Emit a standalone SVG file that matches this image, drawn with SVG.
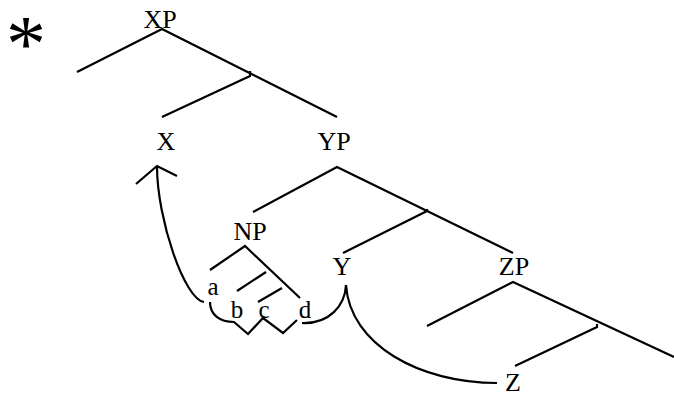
<svg xmlns="http://www.w3.org/2000/svg" width="674" height="396" viewBox="0 0 674 396">
<style>
text{font-family:'Liberation Serif','DejaVu Serif','Times New Roman',serif;fill:#000;text-anchor:middle}
.t{font-size:26px}
.s{font-size:25px}
.ln{fill:none;stroke:#000;stroke-width:2.2;stroke-linecap:butt;stroke-linejoin:miter}
</style>
<rect width="674" height="396" fill="#fff"/>
<text id="star" x="26" y="71" style="font-size:80px">*</text>
<g id="nodes">
<g id="n-XP"><text class="t" x="160" y="28">XP</text></g>
<g id="n-X"><text class="t" x="166" y="150">X</text></g>
<g id="n-YP"><text class="t" x="334" y="150">YP</text></g>
<g id="n-NP"><text class="t" x="250" y="240">NP</text></g>
<g id="n-Y"><text class="t" x="342" y="275">Y</text></g>
<g id="n-ZP"><text class="t" x="514" y="275">ZP</text></g>
<g id="n-Z"><text class="t" x="513" y="391">Z</text></g>
<g id="n-a"><text class="s" x="213" y="295">a</text></g>
<g id="n-b"><text class="s" x="237" y="318">b</text></g>
<g id="n-c"><text class="s" x="264" y="318">c</text></g>
<g id="n-d"><text class="s" x="305" y="318">d</text></g>
</g>
<g id="connectors" class="ln">
<path class="ln" d="M77,72 L162,29 L337,117"/>
<path class="ln" d="M250,71 L250,76 L162,117"/>
<path class="ln" d="M253,212 L337,167 L513,253"/>
<path class="ln" d="M427,209 L427,211 L343,253"/>
<path class="ln" d="M210,270 L245,246 L300,298"/>
<path class="ln" d="M237,291 L266,272"/>
<path class="ln" d="M258,302 L282,288"/>
<path class="ln" d="M427,326 L513,282 L674,357"/>
<path class="ln" d="M597,324 L597,327 L515,366"/>
<path class="ln" d="M204,302 C185,300 157,220 157,166"/>
<path class="ln" d="M136,184 L157,166 L177,176"/>
<path class="ln" d="M210,302 C210,315 220,322 234,322 L248,334 L263,318 L283,333 L297,320"/>
<path class="ln" d="M302,323 C330,324 345,305 346,285"/>
<path class="ln" d="M346,285 C350,345 420,383 497,383"/>
</g>
</svg>
